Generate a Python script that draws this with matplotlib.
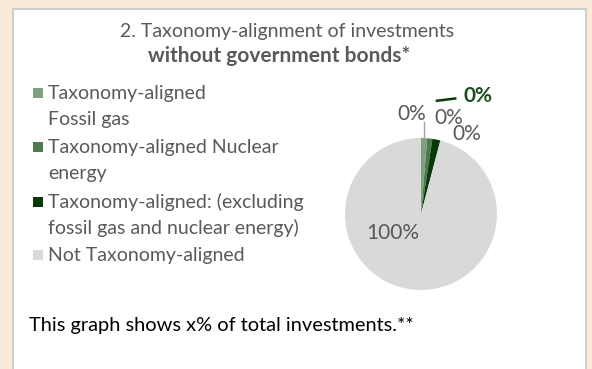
import matplotlib.pyplot as plt
from matplotlib.patches import Rectangle

plt.rcParams.update({"font.family": ["Lato", "DejaVu Sans"]})

W, H = 592, 369

categories = [
    "Taxonomy-aligned\nFossil gas",
    "Taxonomy-aligned Nuclear\nenergy",
    "Taxonomy-aligned: (excluding\nfossil gas and nuclear energy)",
    "Not Taxonomy-aligned",
]
shares = [1.3, 1.1, 1.7, 95.9]
value_labels = ["0%", "0%", "0%", "100%"]
colors = ["#7F9F7F", "#4F7A4F", "#063A06", "#D9D9D9"]

TEXT_GRAY = "#595959"
FS = 14


def fx(px):
    return px / W


def fy(py):
    return 1 - py / H


fig = plt.figure(figsize=(W / 100, H / 100), dpi=100)
fig.patch.set_facecolor("#FBE9D9")

# white panel
fig.patches.append(
    Rectangle((fx(13), fy(400)), fx(586) - fx(13), fy(9) - fy(400),
              transform=fig.transFigure, facecolor="white",
              edgecolor="#CFCFCF", linewidth=1.5, zorder=0)
)

# title
fig.text(fx(287), fy(31), "2. Taxonomy-alignment of investments",
         ha="center", va="center", fontsize=FS, color=TEXT_GRAY)
fig.text(fx(279), fy(56), "without government bonds*",
         ha="center", va="center", fontsize=15, color=TEXT_GRAY,
         fontweight="bold")

# legend
rows_y = [93, 147, 202, 255]
for label, color, y in zip(categories, colors, rows_y):
    fig.patches.append(
        Rectangle((fx(33), fy(y + 5)), fx(10), 10 / H,
                  transform=fig.transFigure, facecolor=color,
                  edgecolor="none", zorder=2)
    )
    for i, line in enumerate(label.split("\n")):
        fig.text(fx(48), fy(y + 26 * i), line, ha="left", va="center",
                 fontsize=FS, color=TEXT_GRAY)

# pie
cx, cy, r = 421, 214, 76
ax = fig.add_axes([fx(cx - r), fy(cy + r), 2 * r / W, 2 * r / H], zorder=3)
ax.patch.set_visible(False)
ax.pie(shares, colors=colors, startangle=90, counterclock=False,
       radius=1, wedgeprops={"linewidth": 0})
ax.set_xlim(-1, 1)
ax.set_ylim(-1, 1)
ax.set_aspect("auto")
ax.axis("off")

# data labels (positions in pie units)
LFS = 15
ax.plot([0.04, 0.04], [1.0, 1.21], color="#A0A0A0", linewidth=1, clip_on=False)
ax.text(-0.12, 1.32, value_labels[0], ha="center", va="center",
        fontsize=LFS, color=TEXT_GRAY, clip_on=False)
ax.text(0.36, 1.26, value_labels[1], ha="center", va="center",
        fontsize=LFS, color=TEXT_GRAY, clip_on=False)
ax.text(0.60, 1.05, value_labels[2], ha="center", va="center",
        fontsize=LFS, color=TEXT_GRAY, clip_on=False)
ax.plot([0.21, 0.45], [1.49, 1.52], color="#063A06", linewidth=1.8, clip_on=False)
ax.text(0.75, 1.55, value_labels[2], ha="center", va="center",
        fontsize=LFS, color="#1E4D1E", fontweight="bold", clip_on=False)
ax.text(-0.37, -0.25, value_labels[3], ha="center", va="center",
        fontsize=LFS, color=TEXT_GRAY)

# footnote
fig.text(fx(29), fy(326), "This graph shows x% of total investments.**",
         ha="left", va="center", fontsize=14.4, color="black")

fig.savefig("out.png", dpi=100, facecolor=fig.get_facecolor())
